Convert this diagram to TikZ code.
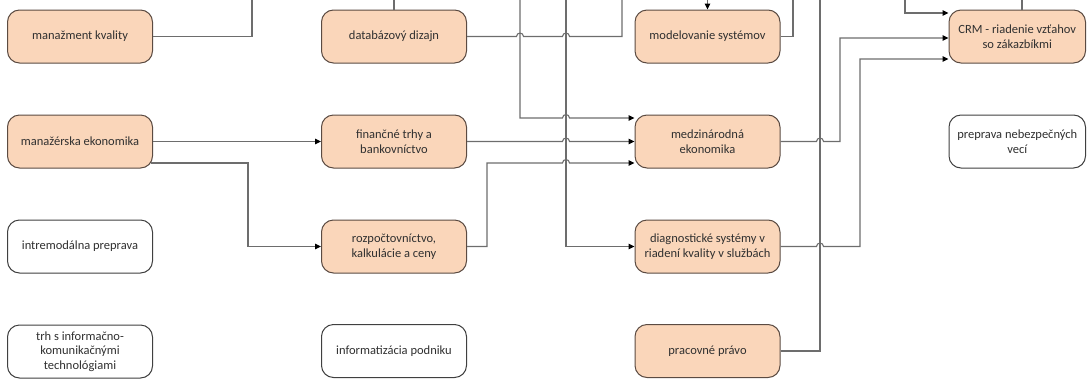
\documentclass[tikz,border=0pt]{standalone}
\usepackage{fontspec}
\setmainfont{Carlito}
\usetikzlibrary{arrows.meta}
\definecolor{peach}{HTML}{FAD6BA}
\definecolor{bdr}{HTML}{5B4B42}
\definecolor{bdrw}{HTML}{404040}
\definecolor{lc}{HTML}{6D6D6D}
\definecolor{txt}{HTML}{303030}
\begin{document}
\begin{tikzpicture}[x=1pt,y=-1pt,
  box/.style={draw=bdr, line width=1pt, rounded corners=12pt, minimum width=145pt, minimum height=53pt, inner sep=0pt, align=center, text=txt, font=\fontsize{12.5}{15.5}\selectfont},
  hot/.style={box, fill=peach},
  cold/.style={box, fill=white, draw=bdrw},
  ln/.style={draw=lc, line width=1.1pt},
  ar/.style={ln, -{Triangle[length=6pt,width=5.5pt,color=black,fill=black]}}]
\useasboundingbox (0,0) rectangle (1087,378);

\node[hot] (mk) at (80,36.5) {manažment kvality};
\node[hot] (me1) at (80,141.5) {manažérska ekonomika};
\node[cold] (ip) at (80,246.5) {intremodálna preprava};
\node[cold, font=\fontsize{12.5}{14.5}\selectfont] (trh) at (80,351.5) {trh s informačno-\\komunikačnými\\technológiami};
\node[hot] (dd) at (394,36.5) {databázový dizajn};
\node[hot] (fb) at (394,141.5) {finančné trhy a\\bankovníctvo};
\node[hot] (rk) at (394,246.5) {rozpočtovníctvo,\\kalkulácie a ceny};
\node[cold] (inf) at (394,351) {informatizácia podniku};
\node[hot] (ms) at (707.5,36.5) {modelovanie systémov};
\node[hot] (me) at (707.5,141.5) {medzinárodná\\ekonomika};
\node[hot] (dg) at (707.5,246.5) {diagnostické systémy v\\riadení kvality v službách};
\node[hot] (pp) at (707.5,351) {pracovné právo};
\node[hot, minimum width=136.5pt] (crm) at (1017.25,36.5) {CRM - riadenie vzťahov\\so zákazbíkmi};
\node[cold, minimum width=136.5pt] (pnv) at (1017.25,141.5) {preprava nebezpečných\\vecí};

\coordinate (t1) at (252,0);
\coordinate (t2) at (394,0);
\coordinate (t3) at (622,0);
\coordinate (t4) at (520,0);
\coordinate (t5) at (566,0);
\coordinate (t6) at (820,0);
\coordinate (t7) at (707.5,0);
\coordinate (t8) at (793,0);
\coordinate (t9) at (1022,0);
\coordinate (t10) at (905,0);

\draw[ln] (mk.east) -- (252,36.5) -- (t1);
\draw[ln] (dd.north) -- (t2);
\draw[ln] (dd.east) -- (516.5,36.5) .. controls (516.5,32) and (523.5,32) .. (523.5,36.5)
  -- (562.5,36.5) .. controls (562.5,32) and (569.5,32) .. (569.5,36.5) -- (622,36.5) -- (t3);
\draw[ar] (t4) -- (520,118) -- (562.5,118) .. controls (562.5,113.5) and (569.5,113.5) .. (569.5,118)
  -- ([yshift=23.5pt]me.west);
\draw[ar] (t5) -- (566,246.5) -- (dg.west);
\draw[ar] (me1.east) -- (fb.west);
\draw[ar] ([xshift=-2.5pt,yshift=-21.5pt]me1.east) -- (248,163) -- (248,246.5) -- (rk.west);
\draw[ar] (fb.east) -- (562.5,141.5) .. controls (562.5,137) and (569.5,137) .. (569.5,141.5) -- (me.west);
\draw[ar] (rk.east) -- (487,246.5) -- (487,163) -- (562.5,163) .. controls (562.5,158.5) and (569.5,158.5) .. (569.5,163)
  -- ([yshift=-21.5pt]me.west);
\draw[ar] (me.east) -- (816.5,141.5) .. controls (816.5,137) and (823.5,137) .. (823.5,141.5)
  -- (840,141.5) -- (840,38) -- ([yshift=-1.5pt]crm.west);
\draw[ar] (dg.east) -- (816.5,246.5) .. controls (816.5,242) and (823.5,242) .. (823.5,246.5)
  -- (860,246.5) -- (860,59) -- ([yshift=-22.5pt]crm.west);
\draw[ln] (pp.east) -- (820,351) -- (t6);
\draw[ar] (t7) -- (ms.north);
\draw[ln] (ms.east) -- (793,36.5) -- (t8);
\draw[ln] ([xshift=4.75pt]crm.north) -- (t9);
\draw[ar] (t10) -- (905,13) -- ([yshift=23.5pt]crm.west);
\end{tikzpicture}
\end{document}
